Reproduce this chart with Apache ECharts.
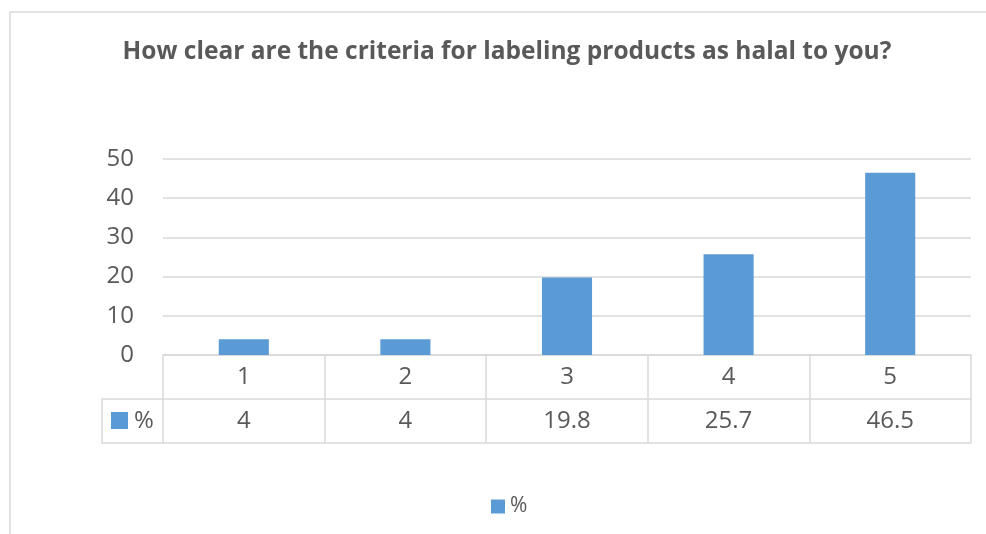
<!DOCTYPE html>
<html>
<head>
<meta charset="utf-8">
<script src="https://cdn.jsdelivr.net/npm/echarts@6/dist/echarts.min.js"></script>
<style>
  html, body { margin: 0; padding: 0; background: #fff; }
  #chart { width: 986px; height: 534px; }
</style>
</head>
<body>
<div id="chart"></div>
<script>
// Survey answers on a 1–5 scale and the share of respondents (%)
const categories = ['1', '2', '3', '4', '5'];
const percentValues = [4, 4, 19.8, 25.7, 46.5];
const seriesName = '%';
const titleText = 'How clear are the criteria for labeling products as halal to you?';

const FONT = '"Open Sans", sans-serif';
const TEXT = '#595959';
const LINE = '#d9d9d9';
const BAR = '#5B9BD5';

// Plot area and data-table layout
const W = 986, H = 534;
const GRID_L = 163, GRID_R = 971, GRID_T = 159, GRID_B = 355;
const ROW_H = 44;
const KEY_COL_L = 102;

const chart = echarts.init(document.getElementById('chart'), null, { renderer: 'canvas' });

const tableAxis = (offset, data, showLabel) => ({
  type: 'category',
  position: 'bottom',
  offset: offset,
  data: data,
  axisLine: { show: true, lineStyle: { color: LINE, width: 1.5 } },
  axisTick: { show: false },
  axisLabel: {
    show: showLabel,
    interval: 0,
    margin: ROW_H / 2,
    verticalAlign: 'middle',
    fontFamily: FONT,
    fontSize: 24,
    color: TEXT
  }
});

const option = {
  backgroundColor: '#fff',
  animation: false,
  title: {
    text: titleText,
    left: 502,
    top: 35,
    textAlign: 'center',
    textStyle: { fontFamily: FONT, fontSize: 24.5, fontWeight: 'bold', color: TEXT }
  },
  legend: {
    top: 496,
    left: 491,
    padding: 0,
    itemWidth: 14,
    itemHeight: 14,
    itemGap: 5,
    icon: 'rect',
    textStyle: { fontFamily: FONT, fontSize: 21, color: TEXT },
    data: [seriesName]
  },
  grid: {
    left: GRID_L,
    right: W - GRID_R,
    top: GRID_T,
    bottom: H - GRID_B,
    containLabel: false
  },
  xAxis: [
    {
      type: 'category',
      position: 'bottom',
      data: categories,
      axisLine: { show: true, lineStyle: { color: LINE, width: 1.5 } },
      axisTick: { show: true, alignWithLabel: false, inside: false, length: ROW_H * 2, lineStyle: { color: LINE, width: 1.5 } },
      axisLabel: {
        interval: 0,
        margin: ROW_H / 2,
        verticalAlign: 'middle',
        fontFamily: FONT,
        fontSize: 24,
        color: TEXT
      }
    },
    tableAxis(ROW_H, percentValues.map(v => String(v)), true),
    tableAxis(ROW_H * 2, categories, false)
  ],
  yAxis: {
    type: 'value',
    min: 0,
    max: 50,
    interval: 10,
    axisLine: { show: false },
    axisTick: { show: false },
    splitLine: { lineStyle: { color: LINE, width: 1.5 } },
    axisLabel: { margin: 29, fontFamily: FONT, fontSize: 24, color: TEXT }
  },
  series: [{
    name: seriesName,
    type: 'bar',
    xAxisIndex: 0,
    data: percentValues,
    barWidth: '31%',
    itemStyle: { color: BAR }
  }],
  graphic: [
    // chart frame (top and left edges visible)
    {
      type: 'rect',
      shape: { x: 10, y: 12, width: W, height: H },
      style: { fill: 'none', stroke: LINE, lineWidth: 1.5 },
      silent: true, z: -1
    },
    // legend key column of the data table
    {
      type: 'polyline',
      shape: { points: [[GRID_L, GRID_B + ROW_H], [KEY_COL_L, GRID_B + ROW_H], [KEY_COL_L, GRID_B + ROW_H * 2], [GRID_L, GRID_B + ROW_H * 2]] },
      style: { fill: 'none', stroke: LINE, lineWidth: 1.5 },
      silent: true
    },
    {
      type: 'rect',
      shape: { x: KEY_COL_L + 9, y: GRID_B + ROW_H + 13, width: 17, height: 17 },
      style: { fill: BAR },
      silent: true
    },
    {
      type: 'text',
      x: KEY_COL_L + 32,
      y: GRID_B + ROW_H * 1.5,
      style: { text: seriesName, fontFamily: FONT, fontSize: 24, fill: TEXT, textVerticalAlign: 'middle' },
      silent: true
    }
  ]
};

chart.setOption(option);
</script>
</body>
</html>
